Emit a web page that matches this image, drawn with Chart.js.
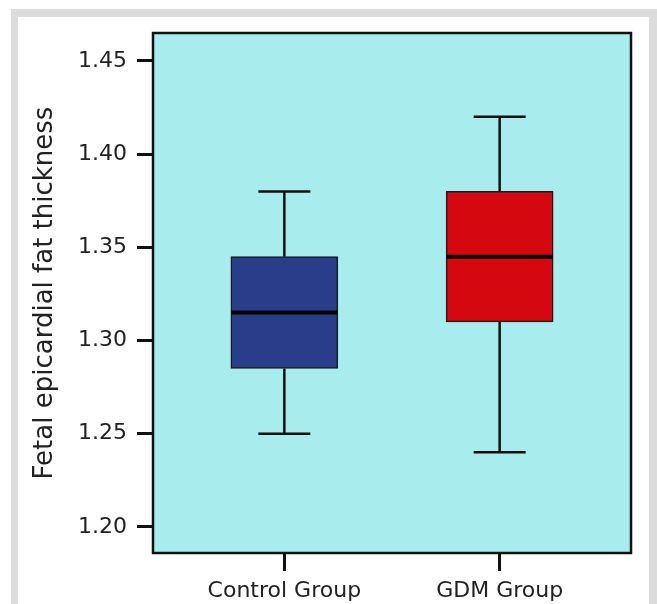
<!DOCTYPE html>
<html>
<head>
<meta charset="utf-8">
<script src="https://cdn.jsdelivr.net/npm/chart.js@4.4.1/dist/chart.umd.min.js"></script>
<style>
  html, body { margin: 0; padding: 0; background: #fff; }
  #frame {
    position: absolute; left: 11px; top: 9px; width: 631px; height: 600px;
    border-left: 7px solid #dcdcdc; border-top: 8px solid #dcdcdc; border-right: 8px solid #dcdcdc;
    background: #fff;
  }
  #boxChart { position: absolute; left: 0; top: 0; }
</style>
</head>
<body>
<div id="frame"></div>
<canvas id="boxChart" width="657" height="604"></canvas>
<script>
// Datos del diagrama de caja
const categories = ["Control Group", "GDM Group"];
const xPositions = [1, 2];
const whiskerLow = [1.25, 1.24];
const q1 = [1.285, 1.31];
const median = [1.315, 1.345];
const q3 = [1.345, 1.38];
const whiskerHigh = [1.38, 1.42];
const yTicks = [1.2, 1.25, 1.3, 1.35, 1.4, 1.45];
const boxColors = ["#293d8b", "#d5080f"];

const FONT = "'DejaVu Sans', sans-serif";

// Fondo y marco del área de trazado
const plotFrame = {
  id: "plotFrame",
  beforeDraw(chart) {
    const { ctx, chartArea: a } = chart;
    ctx.save();
    ctx.fillStyle = "#a9ecee";
    ctx.fillRect(a.left, a.top, a.right - a.left, a.bottom - a.top);
    ctx.restore();
  },
  afterDraw(chart) {
    const { ctx, chartArea: a } = chart;
    ctx.save();
    ctx.strokeStyle = "#111";
    ctx.lineWidth = 2.5;
    ctx.strokeRect(a.left, a.top, a.right - a.left, a.bottom - a.top);
    ctx.restore();
  },
};

// Bigotes y medianas
const boxExtras = {
  id: "boxExtras",
  beforeDatasetsDraw(chart) {
    const { ctx, scales } = chart;
    ctx.save();
    ctx.strokeStyle = "#111";
    ctx.lineWidth = 2.5;
    xPositions.forEach((xv, i) => {
      const x = scales.x.getPixelForValue(xv);
      const yLo = scales.y.getPixelForValue(whiskerLow[i]);
      const yHi = scales.y.getPixelForValue(whiskerHigh[i]);
      const yQ1 = scales.y.getPixelForValue(q1[i]);
      const yQ3 = scales.y.getPixelForValue(q3[i]);
      ctx.beginPath();
      ctx.moveTo(x, yHi); ctx.lineTo(x, yQ3);
      ctx.moveTo(x, yQ1); ctx.lineTo(x, yLo);
      ctx.moveTo(x - 26, yHi); ctx.lineTo(x + 26, yHi);
      ctx.moveTo(x - 26, yLo); ctx.lineTo(x + 26, yLo);
      ctx.stroke();
    });
    ctx.restore();
  },
  afterDatasetsDraw(chart) {
    const { ctx, scales } = chart;
    ctx.save();
    ctx.strokeStyle = "#050505";
    ctx.lineWidth = 4;
    xPositions.forEach((xv, i) => {
      const x = scales.x.getPixelForValue(xv);
      const y = scales.y.getPixelForValue(median[i]);
      ctx.beginPath();
      ctx.moveTo(x - 53, y); ctx.lineTo(x + 53, y);
      ctx.stroke();
    });
    ctx.restore();
  },
};

const data = {
  datasets: [
    {
      label: "Fetal epicardial fat thickness",
      data: xPositions.map((x, i) => ({ x: x, y: [q1[i], q3[i]] })),
      backgroundColor: boxColors,
      borderColor: "#1a1a1a",
      borderWidth: 1.5,
      borderSkipped: false,
      barThickness: 107,
    },
  ],
};

const config = {
  type: "bar",
  data: data,
  options: {
    responsive: false,
    animation: false,
    layout: { padding: { left: 30, top: 33, right: 26, bottom: 0 } },
    plugins: {
      legend: { display: false },
      tooltip: { enabled: false },
    },
    scales: {
      x: {
        type: "linear",
        min: 0.39,
        max: 2.61,
        offset: false,
        afterBuildTicks: (scale) => {
          scale.ticks = xPositions.map((v) => ({ value: v }));
        },
        afterFit: (scale) => {
          scale.height = 51;
        },
        grid: {
          offset: false,
          drawOnChartArea: false,
          tickLength: 18,
          tickWidth: 3,
          tickColor: "#111",
        },
        border: { display: false },
        ticks: {
          padding: 7,
          color: "#222",
          font: { family: FONT, size: 22 },
          callback: (v) => categories[xPositions.indexOf(v)] || "",
        },
      },
      y: {
        min: 1.186,
        max: 1.465,
        afterBuildTicks: (scale) => {
          scale.ticks = yTicks.map((v) => ({ value: v }));
        },
        afterFit: (scale) => {
          scale.width = 123;
        },
        grid: {
          drawOnChartArea: false,
          tickLength: 16,
          tickWidth: 3,
          tickColor: "#111",
        },
        border: { display: false },
        ticks: {
          padding: 10,
          color: "#222",
          font: { family: FONT, size: 22 },
          callback: (v) => v.toFixed(2),
        },
        title: {
          display: true,
          text: "Fetal epicardial fat thickness",
          color: "#222",
          padding: 0,
          font: { family: FONT, size: 26 },
        },
      },
    },
  },
  plugins: [plotFrame, boxExtras],
};

const ctx = document.getElementById("boxChart").getContext("2d");
new Chart(ctx, config);
</script>
</body>
</html>
